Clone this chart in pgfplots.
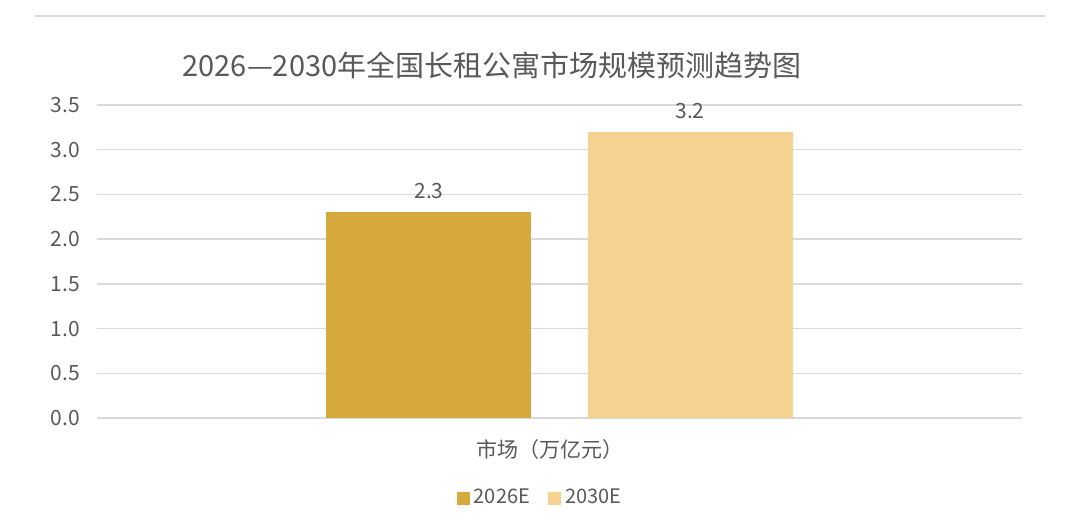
\documentclass[border=0pt]{standalone}
\usepackage{fontspec}
\setmainfont{Noto Sans CJK SC}
\usepackage{pgfplots}
\pgfplotsset{compat=1.18}

\definecolor{goldA}{HTML}{D6A93C}
\definecolor{goldB}{HTML}{F5D290}
\definecolor{gridc}{HTML}{D9D9D9}
\definecolor{txt}{HTML}{595959}

\begin{document}
\begin{tikzpicture}
% 1 px of the reference = 0.5pt
\path[use as bounding box] (0,0) rectangle (540pt,265.5pt);
\draw[gridc, line width=0.8pt] (17.5pt,257.5pt) -- (522.5pt,257.5pt);
\node[text=txt, font=\fontsize{14.5pt}{16pt}\selectfont] at (246pt,233pt)
  {2026—2030年全国长租公寓市场规模预测趋势图};
\begin{axis}[
  at={(48.5pt,56.5pt)}, anchor=south west,
  scale only axis,
  width=462.5pt, height=156.5pt,
  ybar,
  xmin=-1, xmax=1,
  ymin=0, ymax=3.5,
  xtick={0}, xticklabels={市场（万亿元）},
  ytick={0,0.5,...,3.5},
  yticklabel style={/pgf/number format/fixed, /pgf/number format/precision=1,
    /pgf/number format/fixed zerofill, xshift=-5pt},
  /pgf/number format/assume math mode=true,
  xticklabel style={yshift=-7pt, xshift=-5pt},
  tick label style={text=txt, font=\fontsize{10.5pt}{12pt}\selectfont},
  ymajorgrids,
  grid style={gridc, line width=0.7pt},
  axis line style={draw=none},
  major tick length=0pt,
  bar width=0.4432,
  nodes near coords,
  nodes near coords style={text=txt, font=\fontsize{10.5pt}{12pt}\selectfont,
    /pgf/number format/fixed, /pgf/number format/precision=1, yshift=3pt},
  legend columns=2,
  legend style={at={(0.480,-0.2556)}, anchor=center, draw=none,
    text=txt, font=\fontsize{10pt}{12pt}\selectfont,
    /tikz/every even column/.append style={column sep=7pt}},
  legend image code/.code={\fill[#1] (0pt,-3.25pt) rectangle (6.5pt,3.25pt);},
]
\addplot[fill=goldA, draw=none, bar shift=-0.2822] coordinates {(0,2.3)};
\addplot[fill=goldB, draw=none, bar shift=0.2822] coordinates {(0,3.2)};
\legend{2026E, 2030E}
\end{axis}
\end{tikzpicture}
\end{document}
